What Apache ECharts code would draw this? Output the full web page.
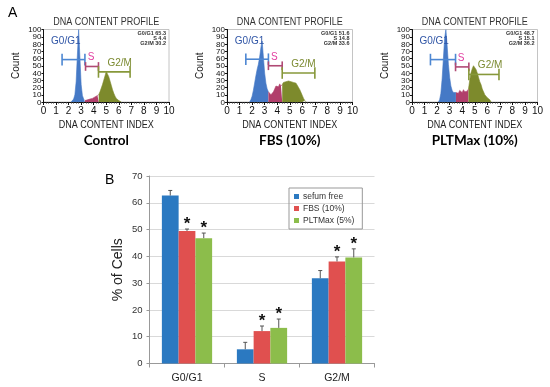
<!DOCTYPE html>
<html><head><meta charset="utf-8">
<script src="https://cdn.jsdelivr.net/npm/echarts@6.0.0/dist/echarts.min.js"></script>
<style>html,body{margin:0;padding:0;background:#fff}#c{width:550px;height:387px}</style>
</head><body><div id="c"></div>
<script>
// ---------- Panel A: DNA content histograms [index, count] ----------
const ctrlG1 = [[2.2,0],[2.3,2],[2.4,4],[2.5,10],[2.6,28],[2.7,65],[2.8,100],[2.9,62],[3.0,24],[3.1,9],[3.2,4],[3.3,2]];
const ctrlS  = [[3.3,2],[3.4,2],[3.5,3],[3.6,3],[3.7,4],[3.8,3],[3.9,5],[4.0,6],[4.1,7],[4.2,8],[4.3,9],[4.4,10]];
const ctrlG2 = [[4.4,10],[4.5,14],[4.6,19],[4.7,24],[4.8,30],[4.9,36],[5.0,42],[5.1,40],[5.2,35],[5.3,29],[5.4,23],[5.5,17],[5.6,12],[5.7,8],[5.8,5],[5.9,3],[6.0,2],[6.1,1],[6.2,0]];

const fbsG1 = [[1.8,0],[1.9,3],[2.0,8],[2.1,16],[2.2,26],[2.3,36],[2.4,45],[2.5,52],[2.6,62],[2.7,75],[2.8,84],[2.9,62],[3.0,40],[3.1,26],[3.2,18],[3.3,14]];
const fbsS  = [[3.3,14],[3.4,12],[3.5,10],[3.6,11],[3.7,14],[3.8,18],[3.9,22],[4.0,24],[4.1,21],[4.2,25],[4.3,22],[4.4,24]];
const fbsG2 = [[4.4,24],[4.5,27],[4.6,25],[4.7,28],[4.8,26],[4.9,29],[5.0,27],[5.1,28],[5.2,30],[5.3,27],[5.4,29],[5.5,26],[5.6,24],[5.7,20],[5.8,17],[5.9,13],[6.0,9],[6.1,5],[6.2,2],[6.3,0]];

const pltG1 = [[2.1,0],[2.2,3],[2.3,12],[2.4,32],[2.5,60],[2.6,88],[2.7,100],[2.8,78],[2.9,52],[3.0,34],[3.1,22],[3.2,16],[3.3,13],[3.4,12],[3.5,13]];
const pltS  = [[3.5,13],[3.6,15],[3.7,12],[3.8,16],[3.9,14],[4.0,13],[4.1,17],[4.2,14],[4.3,16],[4.4,15],[4.5,18]];
const pltG2 = [[4.5,18],[4.6,30],[4.7,40],[4.8,46],[4.9,50],[5.0,52],[5.1,45],[5.2,40],[5.3,34],[5.4,28],[5.5,24],[5.6,18],[5.7,14],[5.8,10],[5.9,8],[6.0,6],[6.1,4],[6.2,3],[6.3,0]];

// gates: [start, end, level, phaseIndex]
const ctrlGates = [[1.48,3.3,58.5,0],[3.35,4.38,49,1],[4.38,6.9,41.5,2]];
const fbsGates  = [[1.5,3.3,59,0],[3.3,4.4,50,1],[4.4,7.0,40,2]];
const pltGates  = [[1.47,3.47,58.5,0],[3.47,4.53,48.4,1],[4.53,6.93,38,2]];

const phaseNames = ['G0/G1','S','G2/M'];
const ctrlStats = [65.3, 4.4, 30.2];
const fbsStats  = [51.6, 14.8, 33.6];
const pltStats  = [48.7, 15.1, 36.2];
const panelLabels = ['Control','FBS (10%)','PLTMax (10%)'];
const xTicks = [0,1,2,3,4,5,6,7,8,9,10];
const countTicks = [0,10,20,30,40,50,60,70,80,90,100];

// ---------- Panel B: % of cells ----------
const groups = ['G0/G1','S','G2/M'];
const seriesNames = ['sefum free','FBS (10%)','PLTMax (5%)'];
const serumFree = [62.7, 5.3, 31.8];
const serumFreeErr = [1.9, 2.6, 2.9];
const fbs = [49.5, 12.1, 38.1];
const fbsErr = [0.7, 1.9, 1.7];
const pltmax = [46.8, 13.3, 39.6];
const pltmaxErr = [1.9, 3.3, 3.2];
const fbsSig = [1,1,1];
const pltmaxSig = [1,1,1];

// ---------- styles ----------
const histCol = ['#4579c6','#b13f6b','#7d8a2c'];
const gateCol = ['#4d87d2','#b04a74','#87983a'];
const gateTxt = ['#2f55a6','#e23ea0','#7b8a30'];
const barCol = ['#2b79c1','#e0504f','#8cbd4b'];
const SANS = '"Liberation Sans",Arial,sans-serif';

const panels = [
  {left:43.5, g1:ctrlG1, s:ctrlS, g2:ctrlG2, gates:ctrlGates, stats:ctrlStats},
  {left:227, g1:fbsG1, s:fbsS, g2:fbsG2, gates:fbsGates, stats:fbsStats},
  {left:412, g1:pltG1, s:pltS, g2:pltG2, gates:pltGates, stats:pltStats}
];
const PW = 125.5, PT = 29.5, PH = 72.5;

const grid=[], xAxis=[], yAxis=[], series=[], graphic=[];
panels.forEach((p,i)=>{
  grid.push({left:p.left, top:PT, width:PW, height:PH, show:true, borderColor:'#b5b5b5', borderWidth:0.8, backgroundColor:'transparent'});
  xAxis.push({gridIndex:i, type:'value', min:0, max:10, interval:1,
    axisLine:{lineStyle:{color:'#111', width:1}},
    axisTick:{length:3, lineStyle:{color:'#111'}},
    minorTick:{show:true, splitNumber:5, length:1.5, lineStyle:{color:'#333'}},
    axisLabel:{fontFamily:SANS, fontSize:10, color:'#111', margin:4, hideOverlap:false, formatter:v=>xTicks.includes(v)?String(v):''},
    splitLine:{show:false}});
  yAxis.push({gridIndex:i, type:'value', min:0, max:100, interval:10,
    name:'Count', nameLocation:'middle', nameGap:22, nameRotate:90,
    nameTextStyle:{fontFamily:SANS, fontSize:10, color:'#222'},
    axisLine:{show:true, lineStyle:{color:'#111', width:1}},
    axisTick:{show:true, length:2, lineStyle:{color:'#111'}},
    axisLabel:{show:false},
    splitLine:{show:false}});
  [p.g1,p.s,p.g2].forEach((d,k)=>{
    series.push({type:'line', xAxisIndex:i, yAxisIndex:i, data:d, symbol:'none', silent:true,
      lineStyle:{color:histCol[k], width:0.6}, areaStyle:{color:histCol[k], opacity:1}, z:2, animation:false});
  });
  // crowded count tick labels (drawn through the y scale so none are dropped)
  series.push({type:'custom', xAxisIndex:i, yAxisIndex:i, data:countTicks.map(v=>[0,v]), z:5, silent:true, animation:false, clip:false,
    renderItem:(params, api)=>{
      const c=api.coord([0, api.value(1)]);
      return {type:'text', style:{text:String(api.value(1)), x:c[0]-2, y:c[1]+0.5, align:'right', verticalAlign:'middle', fill:'#111', font:'8px '+SANS}};
    }});
  series.push({type:'custom', xAxisIndex:i, yAxisIndex:i, data:p.gates, z:5, silent:true, animation:false,
    renderItem:(params, api)=>{
      const x1=api.value(0), x2=api.value(1), y=api.value(2), k=api.value(3);
      const a=api.coord([x1,y]), b=api.coord([x2,y]);
      const cap = k===1 ? 6 : 8;
      const t=api.coord([x1,y+cap])[1], bt=api.coord([x1,y-cap])[1];
      const st={stroke:gateCol[k], lineWidth:1.6};
      let tx, ty, align;
      if(k===0){ tx=a[0]-11; ty=a[1]-13; align='left'; }
      else if(k===1){ tx=(a[0]+b[0])/2-1; ty=a[1]-4; align='center'; }
      else { tx=a[0]+9; ty=a[1]-4; align='left'; }
      return {type:'group', children:[
        {type:'line', shape:{x1:a[0],y1:a[1],x2:b[0],y2:b[1]}, style:st},
        {type:'line', shape:{x1:a[0],y1:t,x2:a[0],y2:bt}, style:st},
        {type:'line', shape:{x1:b[0],y1:t,x2:b[0],y2:bt}, style:st},
        {type:'text', style:{text:phaseNames[k], x:tx, y:ty, align:align, verticalAlign:'bottom',
          fill:gateTxt[k], font:'10px '+SANS}}
      ]};
    }});
  const cx = p.left + PW/2;
  graphic.push({type:'text', x:cx, y:22, scaleX:0.82, style:{text:'DNA CONTENT PROFILE', x:0, y:0, align:'center', verticalAlign:'middle', fill:'#333', font:'11px '+SANS}, z:10});
  graphic.push({type:'text', x:cx, y:125, scaleX:0.82, style:{text:'DNA CONTENT INDEX', x:0, y:0, align:'center', verticalAlign:'middle', fill:'#222', font:'11px '+SANS}, z:10});
  graphic.push({type:'text', x:p.left+PW-3, y:30.5, style:{text:phaseNames.map((n,k)=>n+' '+p.stats[k]).join('\n'), align:'right', fill:'#333', font:'bold 5.5px '+SANS, lineHeight:5}, z:10});
  graphic.push({type:'text', x:cx, y:141, style:{text:panelLabels[i], align:'center', verticalAlign:'middle', fill:'#000', font:'bold 13.5px Lato, "Open Sans", sans-serif'}, z:10});
});

graphic.push({type:'text', x:8, y:6, style:{text:'A', fill:'#000', font:'14px '+SANS}});
graphic.push({type:'text', x:105, y:173, style:{text:'B', fill:'#000', font:'14px '+SANS}});

// ---------- Panel B ----------
const bi = 3;
grid.push({left:149.5, top:176, width:225, height:187.5});
xAxis.push({gridIndex:bi, type:'category', data:groups,
  axisLine:{lineStyle:{color:'#999'}}, axisTick:{show:true, length:4, alignWithLabel:false, lineStyle:{color:'#999'}},
  axisLabel:{fontFamily:SANS, fontSize:10.5, color:'#222', margin:9}});
yAxis.push({gridIndex:bi, type:'value', min:0, max:70, interval:10,
  name:'% of Cells', nameLocation:'middle', nameGap:24, nameRotate:90,
  nameTextStyle:{fontFamily:SANS, fontSize:14, color:'#222'},
  axisLine:{show:true, lineStyle:{color:'#999'}}, axisTick:{show:true, length:3, lineStyle:{color:'#999'}},
  axisLabel:{fontFamily:SANS, fontSize:9.5, color:'#333', margin:7},
  splitLine:{lineStyle:{color:'#d9d9d9', width:1}}});

const vals=[serumFree,fbs,pltmax], errs=[serumFreeErr,fbsErr,pltmaxErr], sigs=[[0,0,0],fbsSig,pltmaxSig];
const GAP = 0.33;
vals.forEach((v,k)=>{
  series.push({type:'bar', name:seriesNames[k], xAxisIndex:bi, yAxisIndex:bi, data:v, barGap:'0%', barCategoryGap:'33%',
    itemStyle:{color:barCol[k]}, animation:false});
});
vals.forEach((v,k)=>{
  const rows = v.map((val,j)=>[j, val, errs[k][j], sigs[k][j]]);
  series.push({type:'custom', xAxisIndex:bi, yAxisIndex:bi, data:rows, z:6, silent:true, animation:false,
    renderItem:(params, api)=>{
      const j=api.value(0), val=api.value(1), e=api.value(2), s=api.value(3);
      const band=api.size([1,0])[0], bw=band*(1-GAP)/3;
      const base=api.coord([j,val]);
      const x=base[0]+(k-1)*bw;
      const top=api.coord([j,val+e])[1];
      const st={stroke:'#555', lineWidth:1};
      const ch=[
        {type:'line', shape:{x1:x,y1:base[1],x2:x,y2:top}, style:st},
        {type:'line', shape:{x1:x-2,y1:top,x2:x+2,y2:top}, style:st}
      ];
      if(s) ch.push({type:'text', style:{text:'*', x:x, y:top-13, align:'center', verticalAlign:'top', fill:'#111', font:'bold 17px '+SANS}});
      return {type:'group', children:ch};
    }});
});

const option = {
  animation:false,
  backgroundColor:'#fff',
  grid, xAxis, yAxis, series, graphic,
  legend:{data:seriesNames, orient:'vertical', left:289, top:188, itemWidth:5, itemHeight:5, itemGap:3,
    padding:[4,8,4,5], borderColor:'#999', borderWidth:1, icon:'rect',
    textStyle:{fontFamily:SANS, fontSize:8.5, color:'#333', padding:[0,0,0,-1]}, selectedMode:false}
};
const chart = echarts.init(document.getElementById('c'), null, {renderer:'canvas'});
chart.setOption(option);
</script>
</body></html>
